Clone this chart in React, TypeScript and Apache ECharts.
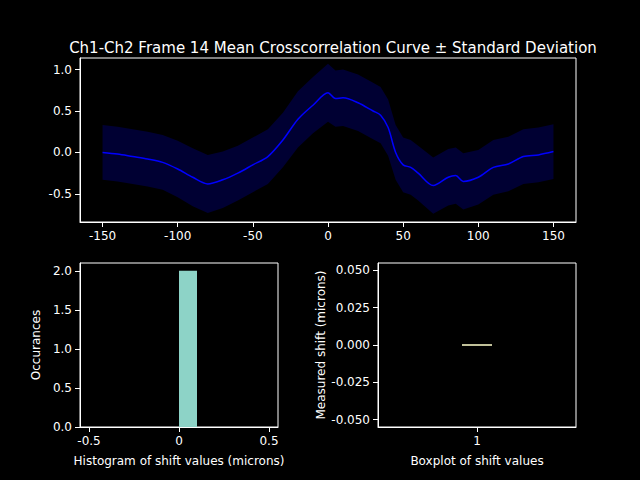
import React, { useEffect, useRef } from "react";
import * as echarts from "echarts";

const lagX = [-150,-140,-130,-120,-110,-100,-90,-80,-70,-60,-50,-40,-30,-20,-10,0,5,10,20,30,35,40,45,50,55,60,70,80,85,90,100,110,120,130,140,150];
const meanY = [0.0,-0.02,-0.05,-0.08,-0.12,-0.2,-0.3,-0.38,-0.33,-0.25,-0.15,-0.05,0.15,0.4,0.57,0.72,0.65,0.66,0.6,0.5,0.45,0.3,0.0,-0.15,-0.18,-0.25,-0.4,-0.3,-0.28,-0.35,-0.3,-0.18,-0.14,-0.05,-0.03,0.01];
const stdY = [0.33,0.33,0.33,0.33,0.33,0.34,0.35,0.35,0.34,0.33,0.33,0.33,0.33,0.34,0.34,0.35,0.34,0.34,0.34,0.34,0.34,0.34,0.33,0.33,0.33,0.33,0.34,0.34,0.34,0.34,0.33,0.33,0.33,0.33,0.33,0.33];
const histBins = [[0, 0.1, 2]];
const boxData = [[0, 0, 0, 0, 0]];

const white = "#ffffff";
const ts = { color: white, fontFamily: "DejaVu Sans", fontSize: 12 };

function axisCommon() {
  return {
    axisLine: { show: true, onZero: false, lineStyle: { color: white } },
    axisTick: { show: true, lineStyle: { color: white } },
    axisLabel: { ...ts },
    splitLine: { show: false },
  };
}

export default function App() {
  const ref = useRef<HTMLDivElement>(null);
  useEffect(() => {
    const chart = echarts.init(ref.current!, null, { renderer: "svg" });
    const mean = lagX.map((x, i) => [x, meanY[i]]);
    chart.setOption({
      animation: false,
      backgroundColor: "#000000",
      title: { text: "Ch1-Ch2 Frame 14 Mean Crosscorrelation Curve ± Standard Deviation", left: 328, top: 35, textAlign: "center", textStyle: { ...ts, fontSize: 15, fontWeight: "normal" } },
      grid: [
        { left: 80, top: 58, width: 496, height: 164, show: true, borderColor: white, borderWidth: 1 },
        { left: 80, top: 263, width: 198, height: 164, show: true, borderColor: white, borderWidth: 1 },
        { left: 378, top: 263, width: 198, height: 164, show: true, borderColor: white, borderWidth: 1 },
      ],
      xAxis: [
        { type: "value", gridIndex: 0, min: -165, max: 165, ...axisCommon(), axisLabel: { ...ts, customValues: [-150,-100,-50,0,50,100,150] }, axisTick: { show: true, lineStyle: { color: white }, customValues: [-150,-100,-50,0,50,100,150] } },
        { type: "value", gridIndex: 1, min: -0.55, max: 0.55, ...axisCommon(), axisLabel: { ...ts, customValues: [-0.5, 0, 0.5] }, axisTick: { show: true, lineStyle: { color: white }, customValues: [-0.5, 0, 0.5] }, name: "Histogram of shift values (microns)", nameLocation: "middle", nameGap: 28, nameTextStyle: ts },
        { type: "category", gridIndex: 2, data: ["1"], boundaryGap: true, ...axisCommon(), axisTick: { show: true, alignWithLabel: true, lineStyle: { color: white } }, name: "Boxplot of shift values", nameLocation: "middle", nameGap: 28, nameTextStyle: ts },
      ],
      yAxis: [
        { type: "value", gridIndex: 0, min: -0.84, max: 1.14, ...axisCommon(), axisLabel: { ...ts, customValues: [-0.5, 0, 0.5, 1.0], formatter: (v: number) => v.toFixed(1) }, axisTick: { show: true, lineStyle: { color: white }, customValues: [-0.5, 0, 0.5, 1.0] } },
        { type: "value", gridIndex: 1, min: 0, max: 2.1, ...axisCommon(), axisLabel: { ...ts, customValues: [0, 0.5, 1, 1.5, 2], formatter: (v: number) => v.toFixed(1) }, axisTick: { show: true, lineStyle: { color: white }, customValues: [0, 0.5, 1, 1.5, 2] }, name: "Occurances", nameLocation: "middle", nameGap: 38, nameTextStyle: ts },
        { type: "value", gridIndex: 2, min: -0.055, max: 0.055, ...axisCommon(), axisLabel: { ...ts, customValues: [-0.05, -0.025, 0, 0.025, 0.05], formatter: (v: number) => v.toFixed(3) }, axisTick: { show: true, lineStyle: { color: white }, customValues: [-0.05, -0.025, 0, 0.025, 0.05] }, name: "Measured shift (microns)", nameLocation: "middle", nameGap: 48, nameTextStyle: ts },
      ],
      series: [
        {
          type: "custom", xAxisIndex: 0, yAxisIndex: 0, data: [[0, 0]], z: 1,
          renderItem: (params: any, api: any) => {
            const up = lagX.map((x, i) => api.coord([x, meanY[i] + stdY[i]]));
            const lo = lagX.map((x, i) => api.coord([x, meanY[i] - stdY[i]])).reverse();
            return { type: "polygon", shape: { points: up.concat(lo) }, style: { fill: "#000033" } };
          },
        },
        { type: "line", xAxisIndex: 0, yAxisIndex: 0, data: mean, smooth: 0.3, symbol: "none", z: 3, lineStyle: { color: "#0000ff", width: 1.5 } },
        {
          type: "custom", xAxisIndex: 1, yAxisIndex: 1, data: histBins,
          renderItem: (params: any, api: any) => {
            const p0 = api.coord([api.value(0), api.value(2)]);
            const p1 = api.coord([api.value(1), 0]);
            return { type: "rect", shape: { x: p0[0], y: p0[1], width: p1[0] - p0[0], height: p1[1] - p0[1] }, style: { fill: "#8dd3c7" } };
          },
        },
        { type: "boxplot", xAxisIndex: 2, yAxisIndex: 2, data: boxData, boxWidth: [30, 30], itemStyle: { color: "#000", borderColor: "#ffffcc", borderWidth: 1.5 } },
      ],
    });
    return () => chart.dispose();
  }, []);
  return <div ref={ref} style={{ width: 640, height: 480, position: "absolute", left: 0, top: 0 }} />;
}
